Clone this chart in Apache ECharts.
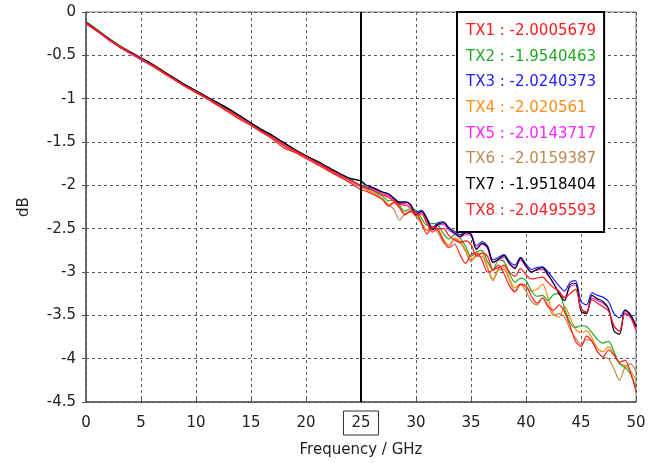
<!DOCTYPE html>
<html>
<head>
<meta charset="utf-8">
<script src="https://cdn.jsdelivr.net/npm/echarts@6/dist/echarts.min.js"></script>
<style>
  html, body { margin: 0; padding: 0; background: #fff; }
  #chart { width: 658px; height: 463px; }
</style>
</head>
<body>
<div id="chart"></div>
<script>
// frequency points (GHz): 0..24 step 1, then 25..50 step 0.5
const freq = [0,1,2,3,4,5,6,7,8,9,10,11,12,13,14,15,16,17,18,19,20,21,22,23,24,
  25,25.5,26,26.5,27,27.5,28,28.5,29,29.5,30,30.5,31,31.5,32,32.5,33,33.5,34,34.5,35,35.5,36,36.5,37,37.5,
  38,38.5,39,39.5,40,40.5,41,41.5,42,42.5,43,43.5,44,44.5,45,45.5,46,46.5,47,47.5,48,48.5,49,49.5,50];

const names = ['TX1','TX2','TX3','TX4','TX5','TX6','TX7','TX8'];
const colors = ['#ff1a1a','#22aa22','#2222ff','#ff8c1a','#ff22ff','#c08850','#000000','#ff2020'];
const legendValues = ['-2.0005679','-1.9540463','-2.0240373','-2.020561','-2.0143717','-2.0159387','-1.9518404','-2.0495593'];

const tx1 = [-0.13,-0.21,-0.31,-0.39,-0.47,-0.54,-0.61,-0.69,-0.77,-0.85,-0.92,-0.99,-1.07,-1.14,-1.22,-1.30,-1.38,-1.45,-1.54,-1.60,-1.67,-1.74,-1.81,-1.88,-1.94,
  -2.00,-2.03,-2.05,-2.08,-2.11,-2.14,-2.18,-2.22,-2.23,-2.26,-2.35,-2.33,-2.44,-2.54,-2.50,-2.50,-2.58,-2.63,-2.66,-2.64,-2.68,-2.81,-2.78,-2.82,-2.97,-2.95,
  -2.92,-3.00,-3.05,-2.96,-3.03,-3.08,-3.07,-3.06,-3.12,-3.18,-3.22,-3.30,-3.25,-3.20,-3.42,-3.46,-3.32,-3.36,-3.40,-3.45,-3.62,-3.68,-3.48,-3.52,-3.66];
const tx2 = [-0.11,-0.20,-0.30,-0.38,-0.46,-0.53,-0.60,-0.68,-0.76,-0.84,-0.91,-0.98,-1.05,-1.12,-1.20,-1.28,-1.36,-1.43,-1.51,-1.59,-1.66,-1.73,-1.80,-1.86,-1.92,
  -1.95,-2.03,-2.06,-2.09,-2.13,-2.18,-2.17,-2.23,-2.30,-2.27,-2.29,-2.38,-2.46,-2.44,-2.46,-2.56,-2.62,-2.57,-2.61,-2.70,-2.82,-2.77,-2.75,-2.88,-2.98,-2.86,
  -2.88,-3.02,-3.12,-3.07,-3.10,-3.22,-3.28,-3.27,-3.33,-3.26,-3.25,-3.42,-3.58,-3.64,-3.62,-3.63,-3.70,-3.78,-3.82,-3.80,-3.92,-4.06,-4.10,-4.18,-4.33];
const tx3 = [-0.13,-0.22,-0.31,-0.40,-0.47,-0.55,-0.62,-0.69,-0.77,-0.84,-0.91,-0.98,-1.05,-1.13,-1.20,-1.28,-1.36,-1.43,-1.51,-1.59,-1.66,-1.73,-1.80,-1.86,-1.93,
  -2.01,-2.02,-2.03,-2.06,-2.08,-2.10,-2.15,-2.19,-2.19,-2.22,-2.31,-2.29,-2.38,-2.49,-2.43,-2.42,-2.49,-2.53,-2.57,-2.54,-2.56,-2.70,-2.65,-2.70,-2.86,-2.83,
  -2.80,-2.88,-2.92,-2.83,-2.91,-2.97,-2.95,-2.94,-3.00,-3.08,-3.16,-3.22,-3.12,-3.10,-3.34,-3.38,-3.24,-3.27,-3.29,-3.34,-3.48,-3.53,-3.44,-3.49,-3.62];
const tx4 = [-0.13,-0.21,-0.31,-0.39,-0.47,-0.54,-0.61,-0.69,-0.77,-0.85,-0.92,-0.99,-1.06,-1.14,-1.22,-1.30,-1.37,-1.45,-1.53,-1.60,-1.67,-1.74,-1.81,-1.87,-1.94,
  -2.02,-2.05,-2.08,-2.11,-2.16,-2.23,-2.19,-2.25,-2.33,-2.29,-2.31,-2.42,-2.52,-2.47,-2.50,-2.62,-2.69,-2.61,-2.64,-2.74,-2.86,-2.80,-2.79,-2.94,-3.08,-2.96,
  -2.94,-3.08,-3.18,-3.14,-3.18,-3.22,-3.20,-3.14,-3.30,-3.48,-3.52,-3.40,-3.52,-3.66,-3.70,-3.68,-3.76,-3.88,-3.92,-3.86,-3.95,-4.05,-4.08,-4.14,-4.25];
const tx5 = [-0.14,-0.22,-0.32,-0.40,-0.48,-0.55,-0.62,-0.70,-0.78,-0.85,-0.93,-1.00,-1.07,-1.14,-1.21,-1.29,-1.37,-1.44,-1.52,-1.60,-1.67,-1.74,-1.80,-1.87,-1.94,
  -2.01,-2.03,-2.04,-2.07,-2.10,-2.12,-2.17,-2.21,-2.21,-2.24,-2.33,-2.31,-2.41,-2.51,-2.46,-2.45,-2.52,-2.56,-2.60,-2.57,-2.58,-2.73,-2.68,-2.73,-2.89,-2.86,
  -2.83,-2.91,-2.95,-2.86,-2.94,-3.00,-2.98,-2.97,-3.04,-3.13,-3.23,-3.29,-3.17,-3.15,-3.42,-3.47,-3.30,-3.33,-3.36,-3.43,-3.63,-3.68,-3.47,-3.52,-3.68];
const tx6 = [-0.13,-0.22,-0.31,-0.40,-0.48,-0.55,-0.62,-0.70,-0.78,-0.86,-0.93,-1.00,-1.08,-1.15,-1.23,-1.31,-1.39,-1.46,-1.55,-1.62,-1.69,-1.75,-1.82,-1.89,-1.96,
  -2.02,-2.05,-2.08,-2.12,-2.16,-2.22,-2.28,-2.40,-2.33,-2.31,-2.36,-2.44,-2.52,-2.50,-2.55,-2.66,-2.70,-2.62,-2.66,-2.76,-2.88,-2.82,-2.82,-2.96,-3.10,-2.98,
  -2.97,-3.10,-3.22,-3.15,-3.22,-3.34,-3.38,-3.30,-3.38,-3.50,-3.48,-3.52,-3.66,-3.76,-3.84,-3.78,-3.80,-3.92,-3.98,-4.00,-4.12,-4.25,-4.10,-4.06,-4.15];
const tx7 = [-0.12,-0.21,-0.30,-0.39,-0.46,-0.53,-0.60,-0.68,-0.76,-0.84,-0.91,-0.98,-1.05,-1.12,-1.20,-1.28,-1.36,-1.43,-1.51,-1.59,-1.66,-1.72,-1.79,-1.86,-1.92,
  -1.95,-2.00,-2.02,-2.05,-2.08,-2.10,-2.15,-2.20,-2.19,-2.22,-2.34,-2.30,-2.39,-2.51,-2.45,-2.43,-2.50,-2.55,-2.59,-2.55,-2.57,-2.74,-2.67,-2.71,-2.89,-2.85,
  -2.81,-2.90,-2.96,-2.84,-2.93,-3.00,-2.97,-2.95,-3.03,-3.13,-3.25,-3.33,-3.15,-3.13,-3.45,-3.48,-3.27,-3.31,-3.34,-3.42,-3.68,-3.72,-3.44,-3.50,-3.64];
const tx8 = [-0.13,-0.22,-0.31,-0.40,-0.47,-0.54,-0.62,-0.70,-0.78,-0.86,-0.93,-1.00,-1.08,-1.16,-1.24,-1.31,-1.39,-1.47,-1.57,-1.62,-1.69,-1.76,-1.83,-1.90,-1.97,
  -2.05,-2.07,-2.10,-2.13,-2.17,-2.24,-2.20,-2.26,-2.34,-2.30,-2.32,-2.44,-2.56,-2.48,-2.52,-2.64,-2.72,-2.68,-2.80,-2.90,-2.80,-2.78,-2.86,-3.00,-2.98,-2.92,
  -3.02,-3.16,-3.23,-3.14,-3.16,-3.28,-3.36,-3.30,-3.40,-3.44,-3.38,-3.46,-3.62,-3.80,-3.86,-3.74,-3.80,-3.92,-3.98,-3.90,-3.96,-4.04,-4.02,-4.16,-4.38];

// draw order: reds drawn last, as in the original plot
const seriesData = [tx1, tx2, tx3, tx4, tx5, tx6, tx7, tx8];
const drawOrder = [5, 3, 1, 2, 4, 6, 0, 7];

const FONT = 'DejaVu Sans';
const chart = echarts.init(document.getElementById('chart'));

const series = drawOrder.map(i => ({
  name: names[i],
  type: 'line',
  data: freq.map((f, k) => [f, seriesData[i][k]]),
  showSymbol: false,
  smooth: 0.3,
  lineStyle: { color: colors[i], width: 1.2 },
  itemStyle: { color: colors[i] },
  silent: true,
  animation: false
}));

// 25 GHz marker line
series[series.length - 1].markLine = {
  silent: true,
  symbol: 'none',
  label: { show: false },
  lineStyle: { color: '#000', width: 2, type: 'solid' },
  data: [{ xAxis: 25 }],
  animation: false
};

chart.setOption({
  animation: false,
  backgroundColor: '#fff',
  grid: {
    left: 86, right: 22, top: 12, bottom: 61,
    show: true, borderColor: '#777', borderWidth: 1
  },
  legend: {
    orient: 'vertical',
    left: 457, top: 12,
    icon: 'none',
    itemWidth: 0,
    itemHeight: 18,
    itemGap: 7.7,
    padding: [10, 8, 12, 4],
    borderColor: '#000',
    borderWidth: 2,
    backgroundColor: '#fff',
    selectedMode: false,
    textStyle: { fontFamily: FONT, fontSize: 15, lineHeight: 18 },
    formatter: name => name + ' : ' + legendValues[names.indexOf(name)],
    data: names.map((n, i) => ({ name: n, textStyle: { color: colors[i] } }))
  },
  xAxis: {
    type: 'value',
    min: 0, max: 50, interval: 5,
    name: 'Frequency / GHz',
    nameLocation: 'middle',
    nameGap: 41,
    nameTextStyle: { fontFamily: FONT, fontSize: 15, color: '#222' },
    axisLine: { show: true, onZero: false, lineStyle: { color: '#555', width: 1.5 } },
    axisTick: { show: true, inside: true, length: 5, lineStyle: { color: '#555' } },
    axisLabel: {
      margin: 9,
      fontFamily: FONT, fontSize: 15, color: '#222',
      formatter: v => v === 25 ? '{box|25}' : '{n|' + v + '}',
      rich: {
        n: { fontFamily: FONT, fontSize: 15, color: '#222', padding: [5, 0, 4, 0] },
        box: { fontFamily: FONT, fontSize: 15, color: '#222', borderColor: '#333', borderWidth: 1, padding: [5, 8, 4, 8] }
      }
    },
    splitLine: { show: true, lineStyle: { color: '#555', type: [3, 3], width: 1 } }
  },
  yAxis: {
    type: 'value',
    min: -4.5, max: 0, interval: 0.5,
    name: 'dB',
    nameLocation: 'middle',
    nameGap: 54,
    nameTextStyle: { fontFamily: FONT, fontSize: 15, color: '#222' },
    axisLine: { show: true, onZero: false, lineStyle: { color: '#555', width: 1.5 } },
    axisTick: { show: true, length: 4, lineStyle: { color: '#555' } },
    axisLabel: { margin: 10, fontFamily: FONT, fontSize: 15, color: '#222' },
    splitLine: { show: true, lineStyle: { color: '#555', type: [3, 3], width: 1 } }
  },
  series: series
});
</script>
</body>
</html>
